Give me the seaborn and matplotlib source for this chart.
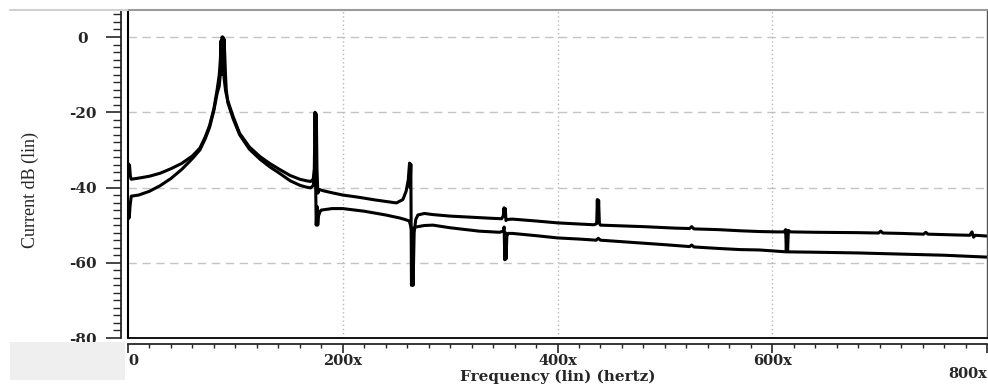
import matplotlib
matplotlib.use("Agg")
import matplotlib.pyplot as plt
import matplotlib.transforms as mtransforms
from matplotlib.ticker import MultipleLocator, FixedLocator
from matplotlib.patches import Rectangle
from matplotlib.lines import Line2D
import seaborn as sns
import pandas as pd

# ---- data ----
freq_a = [0, 0.7, 1.4, 2.2, 3, 10, 20, 30, 40, 50, 60, 67, 72, 76, 80, 83, 85, 86, 86.6, 87.1,
          87.6, 88.1, 88.8, 89.5, 91, 93, 98, 104, 113, 123, 132, 140, 151, 160, 166, 170, 172.5,
          173.5, 174.2, 174.8, 175.4, 176, 176.8, 178, 181, 190, 200, 215, 230, 250, 256, 259,
          261, 262.2, 262.8, 263.4, 264, 264.8, 265.5, 266.5, 268, 270, 276, 284, 300, 320, 340,
          348, 349.5, 350.2, 350.8, 351.4, 352, 353, 358, 380, 400, 420, 434, 436.5, 437.1,
          437.7, 438.3, 439, 440, 450, 480, 510, 523, 525, 527, 550, 570, 588, 605, 611, 612.5,
          613.1, 613.7, 614.3, 615, 617, 640, 680, 699, 701, 703, 720, 741, 743, 745, 770, 784,
          786, 787.5, 789, 800]
db_a = [-33.5, -36.5, -34, -37, -37.8, -37.5, -37, -36.2, -35, -33.6, -31.6, -29.5, -26.5, -23.5,
        -19, -14, -10, -6, -1, -10, 0, -1, -6, -11, -14.5, -17, -21.2, -25.6, -29.2, -31.8, -33.6,
        -35, -36.8, -37.8, -38.2, -38.4, -37.8, -35, -20, -33, -20.5, -35, -41.5, -40.5, -40.8,
        -41.4, -42, -42.6, -43.3, -44.1, -43.2, -41, -38, -33.5, -40, -33.8, -66, -55, -66, -52,
        -48.5, -47.3, -46.9, -47.2, -47.6, -47.9, -48.2, -48.3, -47.5, -45.4, -47.5, -45.6,
        -48.8, -48.5, -48.4, -48.9, -49.4, -49.7, -49.9, -49.6, -43.2, -49, -43.4, -49.5, -50,
        -50.1, -50.4, -50.8, -50.9, -50.4, -51, -51.2, -51.5, -51.7, -51.8, -51.8, -51.2, -57,
        -51.5, -57, -51.4, -51.8, -51.9, -52, -52.1, -51.6, -52.1, -52.2, -52.4, -51.9, -52.4,
        -52.6, -52.7, -51.8, -53.2, -52.7, -52.9]

freq_b = [0, 0.6, 1.2, 1.9, 3, 10, 20, 30, 40, 50, 60, 67, 72, 76, 80, 83, 85, 86.5, 87.5, 88.3,
          88.9, 89.4, 90, 90.8, 91.5, 93, 98, 104, 113, 123, 132, 140, 151, 160, 166, 170, 172.5,
          173.5, 174.5, 175.3, 176, 176.7, 177.5, 179, 180, 190, 200, 220, 240, 253, 258, 262,
          263.5, 264.5, 266, 268, 276, 284, 300, 327, 346, 349.5, 350.3, 350.9, 351.5, 352.1,
          352.8, 354, 358, 380, 400, 420, 436, 438, 440, 460, 480, 500, 523, 525, 527, 550, 570,
          588, 613, 640, 681, 720, 760, 800]
db_b = [-48.5, -44, -48, -45, -42.3, -42, -41, -39.5, -37.6, -35.2, -32.3, -30, -27, -24, -19.5,
        -15, -13, -8, -3, 0, -8, -0.5, -4, -10, -14, -17.5, -21.8, -26, -29.8, -32.5, -34.5, -36,
        -38.2, -39.4, -39.9, -40.1, -39.5, -37, -34, -50, -45, -50, -47.5, -46.3, -46, -45.6,
        -45.6, -46.3, -47.3, -48.1, -48.5, -48.9, -50.5, -52, -50.8, -50.5, -50.1, -50, -50.7,
        -51.6, -51.9, -51.6, -50.5, -59.2, -52, -59, -53, -52.2, -52.2, -52.8, -53.4, -53.7,
        -54, -53.5, -54, -54.4, -54.8, -55.2, -55.7, -55.3, -55.8, -56.2, -56.5, -56.6, -57.1,
        -57.2, -57.4, -57.7, -58, -58.5]

y_ticks = [0, -20, -40, -60, -80]
y_tick_labels = ["0", "-20", "-40", "-60", "-80"]
x_ticks = [0, 200, 400, 600, 800]
x_tick_labels = ["0", "200x", "400x", "600x", "800x"]
x_title = "Frequency (lin) (hertz)"
y_title = "Current dB (lin)"

df = pd.concat([
    pd.DataFrame({"freq": freq_a, "db": db_a, "series": "A"}),
    pd.DataFrame({"freq": freq_b, "db": db_b, "series": "B"}),
], ignore_index=True)

sns.set_style("white")
plt.rcParams["font.family"] = ["DejaVu Serif"]

W, H = 988, 384
fig = plt.figure(figsize=(W / 100, H / 100), dpi=100)
fig.patch.set_facecolor("white")
x0, x1, ytop, ybot = 128, 987, 10, 338
ax = fig.add_axes([x0 / W, (H - ybot) / H, (x1 - x0) / W, (ybot - ytop) / H])

sns.lineplot(data=df, x="freq", y="db", hue="series", units="series", estimator=None,
             palette=["black", "black"], linewidth=2.2, sort=False, legend=False, ax=ax)

ax.set_xlim(0, 800)
ax.set_ylim(-80, 7.18)

# grid
for yv in y_ticks[:-1]:
    ax.axhline(yv, color="#c4c4c4", lw=1.0, ls=(0, (6, 4)), zorder=0)
for xv in x_ticks[1:-1]:
    ax.axvline(xv, color="#b8b8b8", lw=1.0, ls=(0, (1, 2)), zorder=0)

# frame
ax.spines["top"].set_color("#9a9a9a")
ax.spines["top"].set_linewidth(1.5)
ax.spines["right"].set_color("#555555")
ax.spines["right"].set_linewidth(1.0)
ax.spines["left"].set_position(("outward", 5))
ax.spines["left"].set_linewidth(1.3)
ax.spines["bottom"].set_position(("outward", 4))
ax.spines["bottom"].set_linewidth(1.3)
ax.axvline(0, color="black", lw=1.5, clip_on=False, zorder=5)
ax.axhline(-80, color="black", lw=1.3, clip_on=False, zorder=5)

ax.yaxis.set_major_locator(FixedLocator(y_ticks))
ax.yaxis.set_minor_locator(MultipleLocator(2))
ax.set_yticklabels(y_tick_labels)
ax.xaxis.set_major_locator(FixedLocator(x_ticks))
ax.xaxis.set_minor_locator(MultipleLocator(20))
ax.set_xticklabels(x_tick_labels)

ax.tick_params(axis="y", which="major", direction="out", length=10.8, width=1.2,
               left=True, pad=16.6, labelsize=11)
ax.tick_params(axis="y", which="minor", direction="out", length=5.8, width=1.0, left=True)
ax.tick_params(axis="x", which="major", direction="out", length=6.5, width=1.2,
               bottom=True, pad=1, labelsize=10.5)
ax.tick_params(axis="x", which="minor", direction="out", length=3, width=1.0, bottom=True)
for lab in ax.get_yticklabels():
    lab.set_fontweight("bold")
    lab.set_horizontalalignment("center")
for lab in ax.get_xticklabels():
    lab.set_fontweight("bold")

ax.set_xlabel(x_title, fontsize=11, fontweight="bold", va="center")
ax.xaxis.set_label_coords(0.5, -39 / (ybot - ytop))
ax.set_ylabel(y_title, fontsize=13, family="Liberation Serif", va="center")
ax.yaxis.set_label_coords(-(x0 - 30) / (x1 - x0), (ybot - 190) / (ybot - ytop))

# tick label tweaks (first left-aligned, last right-aligned and lowered)
ticks = ax.xaxis.get_major_ticks()
ticks[0].label1.set_horizontalalignment("left")
ticks[-1].label1.set_horizontalalignment("right")
ticks[-1].label1.set_transform(ticks[-1].label1.get_transform() +
                               mtransforms.ScaledTranslation(0, -13 / 100, fig.dpi_scale_trans))

# light grey decorations outside the plot
fig.patches.append(Rectangle((10 / W, (H - 380) / H), 115 / W, 38 / H,
                             transform=fig.transFigure, facecolor="#efefef",
                             edgecolor="none", zorder=0))
fig.lines.append(Line2D([10 / W, x0 / W], [(H - 9.5) / H] * 2, transform=fig.transFigure,
                        color="#d0d0d0", lw=1.5))

fig.savefig("out.png", dpi=100)
